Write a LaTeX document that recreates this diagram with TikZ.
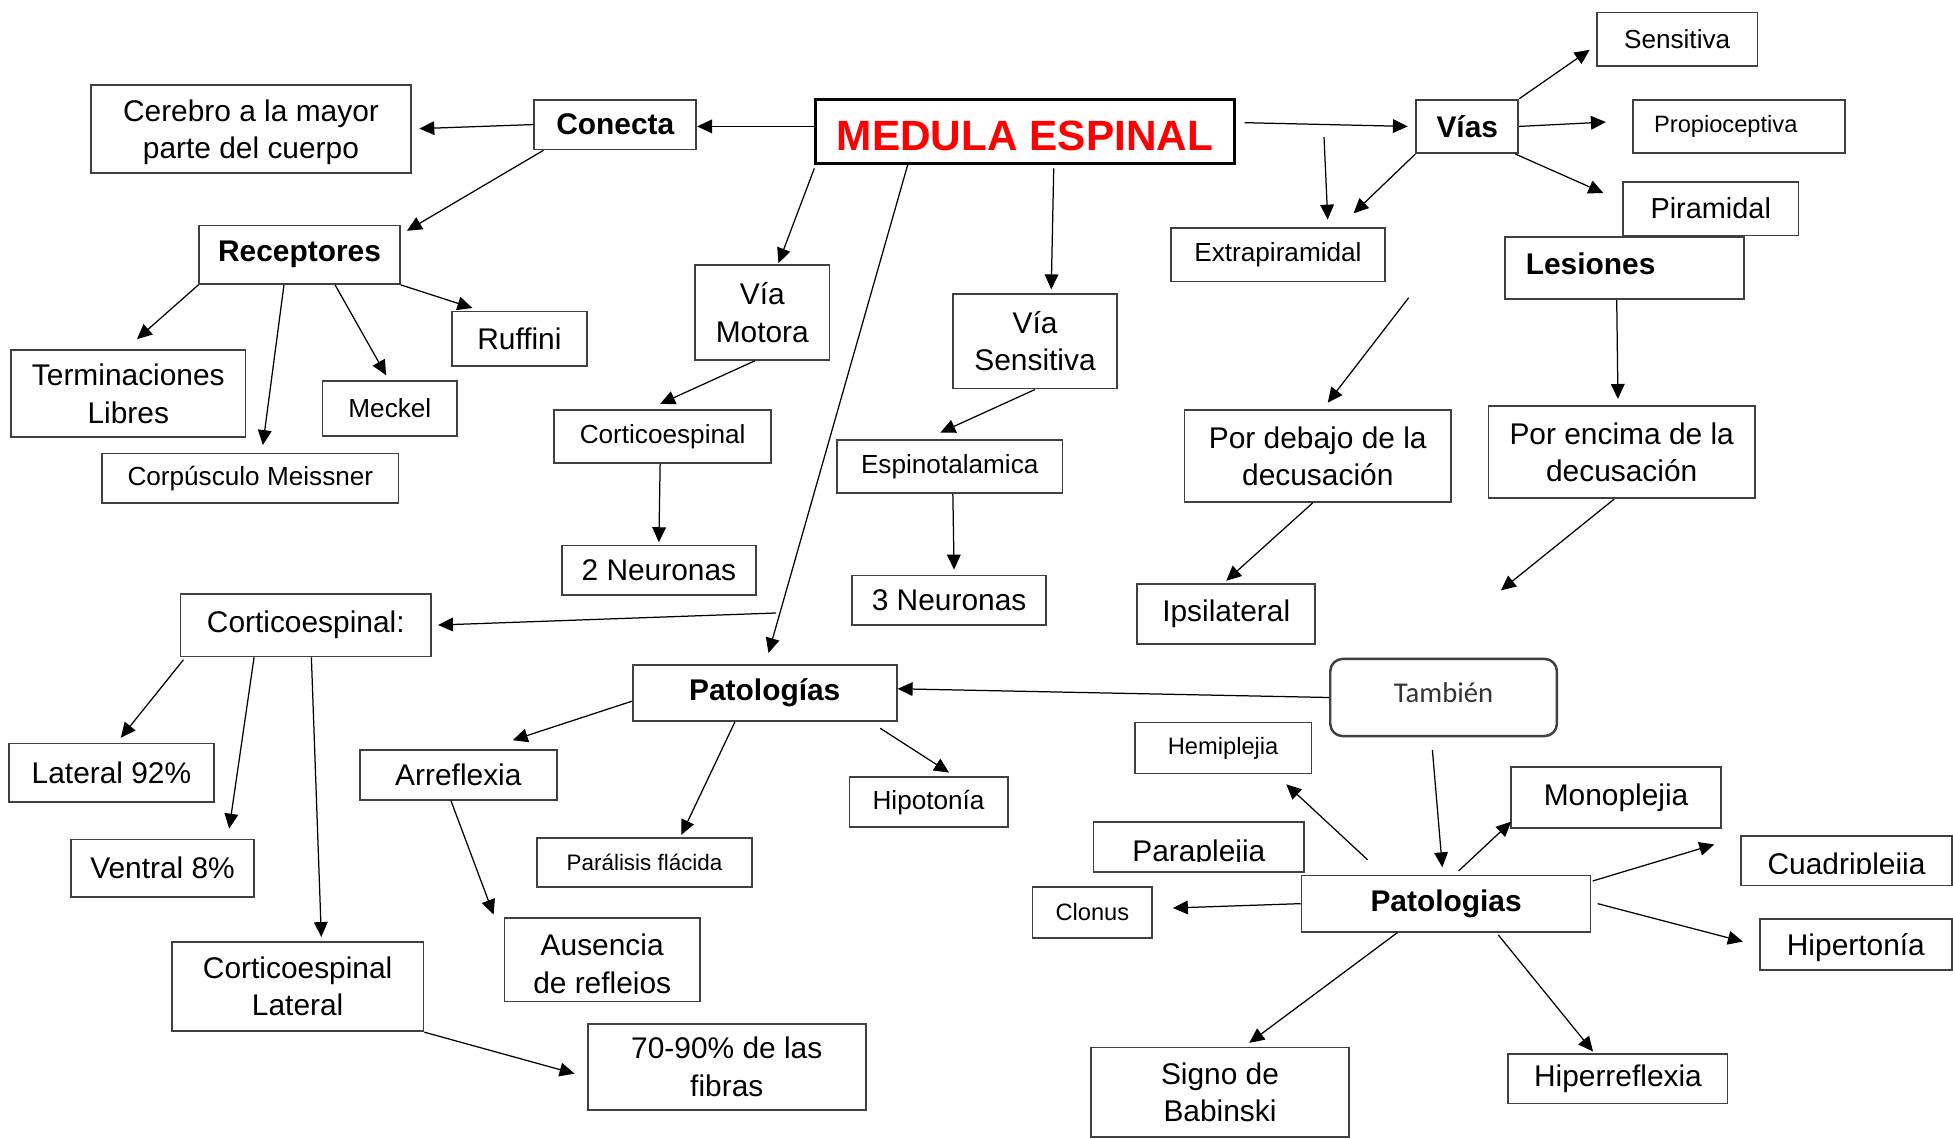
\documentclass[tikz,border=0pt]{standalone}
\usepackage{fontspec}
\setmainfont{Liberation Sans}
\newfontfamily\carlitofont{Carlito}
\usetikzlibrary{arrows.meta,calc}
\definecolor{medred}{HTML}{FF0000}
\definecolor{boxgray}{HTML}{404040}
\definecolor{textgray}{HTML}{333333}

\begin{document}
\begin{tikzpicture}[x=0.5pt, y=-0.5pt,
  caja/.style={draw=boxgray, line width=0.7pt, inner sep=1pt, align=center,
    font=\fontsize{12}{15}\selectfont},
  dosl/.style={caja, text depth=0pt},
  cajachica/.style={caja, font=\fontsize{10.5}{13}\selectfont},
  cajamini/.style={caja, font=\fontsize{9.5}{12}\selectfont},
  cajabold/.style={caja, font=\bfseries\fontsize{12}{15}\selectfont},
  flecha/.style={-{Triangle[length=6pt,width=5.5pt]}, line width=0.5pt}]
  \path[use as bounding box, fill=white] (0,0) rectangle (1568,914);

  % centro y rama izquierda
  \node[draw=black, line width=1.2pt, minimum width=168pt, minimum height=25.5pt, text height=15.5pt, text depth=0pt,
    font=\bfseries\fontsize{17}{19}\selectfont, text=medred] (medula) at (823,105.5) {MEDULA ESPINAL};
  \node[cajabold, minimum width=65pt, minimum height=20pt] (conecta) at (494,100) {Conecta};
  \node[dosl, minimum width=128.5pt, minimum height=35.5pt] (cerebro) at (201.5,103.5) {Cerebro a la mayor\\parte del cuerpo};
  \node[cajabold, minimum width=80.5pt, minimum height=23.5pt] (receptores) at (240.5,204.5) {Receptores};
  \node[dosl, minimum width=94pt, minimum height=35pt] (terminaciones) at (103,316) {Terminaciones\\Libres};
  \node[cajachica, minimum width=54pt, minimum height=22pt] (meckel) at (313,328) {Meckel};
  \node[caja, minimum width=54pt, minimum height=22pt] (ruffini) at (417,272) {Ruffini};
  \node[cajachica, minimum width=119pt, minimum height=20pt] (meissner) at (201,384) {Corpúsculo Meissner};

  % vias motora y sensitiva
  \node[dosl, minimum width=54pt, minimum height=38pt] (viamotora) at (612,251) {Vía\\Motora};
  \node[dosl, minimum width=66pt, minimum height=38pt] (viasensitiva) at (831,274) {Vía\\Sensitiva};
  \node[cajachica, minimum width=87pt, minimum height=21.5pt] (cortmotora) at (532,350.5) {Corticoespinal};
  \node[cajachica, minimum width=90.5pt, minimum height=21.5pt] (espino) at (762.5,374.5) {Espinotalamica};
  \node[caja, minimum width=78pt, minimum height=20pt] (neuronas2) at (529,458) {2 Neuronas};
  \node[caja, minimum width=78pt, minimum height=20pt] (neuronas3) at (762,482) {3 Neuronas};

  % vias y lesiones
  \node[cajabold, minimum width=41pt, minimum height=21.5pt] (vias) at (1178,101.5) {Vías};
  \node[cajachica, minimum width=64.5pt, minimum height=21.5pt] (sensitiva) at (1346.5,31.5) {Sensitiva};
  \node[cajamini, text width=68pt, align=left, inner xsep=8.5pt, minimum height=21.5pt] (propio) at (1396,101.5) {Propioceptiva};
  \node[caja, font=\fontsize{11.6}{14}\selectfont, minimum width=70.5pt, minimum height=21.5pt] (piramidal) at (1373.5,167.5) {Piramidal};
  \node[cajachica, minimum width=86pt, minimum height=21.5pt] (extrapir) at (1026,204.5) {Extrapiramidal};
  \node[cajabold, text width=79pt, align=left, inner xsep=8.5pt, minimum height=25pt, text depth=3pt] (lesiones) at (1304,215) {Lesiones};
  \node[dosl, minimum width=107pt, minimum height=37pt] (debajo) at (1058,366) {Por debajo de la\\decusación};
  \node[dosl, minimum width=107pt, minimum height=37pt] (encima) at (1302,363) {Por encima de la\\decusación};
  \node[caja, minimum width=71.5pt, minimum height=24pt] (ipsilateral) at (984.5,493) {Ipsilateral};
  \coordinate (extrainicio) at (1063,110);
  \coordinate (debajoinicio) at (1131,239);
  \coordinate (encimafin) at (1205,474);

  % corticoespinal
  \node[caja, minimum width=100.5pt, minimum height=25pt] (cortico) at (245.5,502) {Corticoespinal:};
  \node[caja, minimum width=82.5pt, minimum height=23.5pt] (lateral) at (89.5,620.5) {Lateral 92\%};
  \node[caja, minimum width=73.5pt, minimum height=23pt] (ventral) at (130.5,697) {Ventral 8\%};
  \node[dosl, minimum width=101pt, minimum height=36pt] (cortlateral) at (239,792) {Corticoespinal\\Lateral};
  \node[dosl, minimum width=111.5pt, minimum height=34.5pt] (fibras) at (583.5,856.5) {70-90\% de las\\fibras};

  % patologias (motora)
  \node[cajabold, minimum width=106pt, minimum height=22.5pt] (patologia1) at (614,556.5) {Patologías};
  \node[caja, minimum width=79pt, minimum height=20pt] (arreflexia) at (368,622) {Arreflexia};
  \node[caja, font=\fontsize{9}{11}\selectfont, minimum width=86.5pt, minimum height=19.5pt] (paralisis) at (517.5,692.5) {Parálisis flácida};
  \node[caja, minimum width=78.5pt, minimum height=33.5pt, text height=27pt, text depth=0pt] (ausencia) at (483.5,770.5) {Ausencia\\de reflejos};
  \node[cajachica, minimum width=63.5pt, minimum height=20pt] (hipotonia) at (745.5,644) {Hipotonía};

  % tambien y patologias
  \node[draw=boxgray, line width=1pt, rounded corners=5pt, minimum width=91pt, minimum height=31pt, text depth=4pt,
    font=\carlitofont\fontsize{11.5}{13}\selectfont, text=textgray] (tambien) at (1159,560) {También};
  \node[cajabold, minimum width=116pt, minimum height=22.5pt] (patologia2) at (1161,725.5) {Patologias};
  \node[cajamini, minimum width=71pt, minimum height=20.5pt] (hemiplejia) at (982,600.5) {Hemiplejia};
  \node[caja, minimum width=84.5pt, minimum height=24.5pt] (monoplejia) at (1297.5,640.5) {Monoplejia};
  \node[caja, minimum width=84.5pt, minimum height=20pt, text height=11.8pt, text depth=0pt] (paraplejia) at (962.5,680) {Paraplejia};
  \node[cajamini, minimum width=48pt, minimum height=20.5pt] (clonus) at (877,732.5) {Clonus};
  \node[caja, minimum width=84.5pt, minimum height=20pt, text height=11pt, text depth=0pt] (cuadriplejia) at (1482.5,691) {Cuadriplejia};
  \node[caja, minimum width=77pt, minimum height=20.5pt, text height=11pt] (hipertonia) at (1490,758.5) {Hipertonía};
  \node[dosl, minimum width=103.5pt, minimum height=36pt] (babinski) at (979.5,877) {Signo de\\Babinski};
  \node[caja, minimum width=88pt, minimum height=20pt] (hiperreflexia) at (1299,866) {Hiperreflexia};

  % descendentes cortados
  \fill[white] ($(paraplejia.south west)+(0.6pt,0.6pt)$) rectangle ($(paraplejia.base -| paraplejia.east)+(-0.6pt,0)$);
  \fill[white] ($(cuadriplejia.south west)+(0.6pt,0.6pt)$) rectangle ($(cuadriplejia.base -| cuadriplejia.east)+(-0.6pt,0)$);
  \fill[white] ($(ausencia.south west)+(0.6pt,0.6pt)$) rectangle ($(ausencia.south east)+(-0.6pt,3.4pt)$);

  % flechas
  \draw[flecha] ([yshift=2pt]medula.west) -- ([yshift=-0.75pt]conecta.east);
  \draw[flecha, shorten >=3pt] (conecta.west) -- (cerebro.east);
  \draw[flecha] ([xshift=4pt]conecta.south west) -- ([xshift=2.5pt,yshift=-2.5pt]receptores.north east);
  \draw[flecha] (receptores.south west) -- ([xshift=3.5pt,yshift=4pt]terminaciones.north);
  \draw[flecha] ([xshift=-6.25pt]receptores.south) -- ([xshift=5pt,yshift=3pt]meissner.north);
  \draw[flecha] ([xshift=14.25pt]receptores.south) -- ([xshift=-1.5pt,yshift=2pt]meckel.north);
  \draw[flecha] (receptores.south east) -- ([xshift=8.5pt,yshift=1pt]ruffini.north west);

  \draw[flecha] ([yshift=-1.5pt]medula.south west) -- ([xshift=6.5pt,yshift=0.5pt]viamotora.north);
  \draw[flecha] ([xshift=37.5pt]medula.south west) -- coordinate[pos=0.918] (corticocorte)
    ([xshift=1.5pt,yshift=4.5pt]patologia1.north);
  \draw[flecha] ([xshift=11.5pt,yshift=-1.5pt]medula.south) -- ([xshift=6.5pt,yshift=1.5pt]viasensitiva.north);
  \draw[flecha] ([xshift=3.5pt,yshift=3.5pt]medula.east) -- ([xshift=-3pt]vias.west);
  \draw[flecha] ([xshift=-3pt]viamotora.south) -- ([xshift=-1pt,yshift=2pt]cortmotora.north);
  \draw[flecha] ([xshift=-1pt]cortmotora.south) -- ([yshift=1pt]neuronas2.north);
  \draw[flecha] (viasensitiva.south) -- ([xshift=-3.75pt,yshift=2.5pt]espino.north);
  \draw[flecha] ([xshift=1.25pt]espino.south) -- ([xshift=2pt,yshift=2pt]neuronas3.north);

  \draw[flecha] (extrainicio) -- ([xshift=20pt,yshift=3pt]extrapir.north);
  \draw[flecha] (vias.south west) -- ([xshift=-13pt,yshift=5.5pt]extrapir.north east);
  \draw[flecha] (vias.north east) -- ([xshift=-2.5pt,yshift=-4.25pt]sensitiva.west);
  \draw[flecha] (vias.east) -- ([xshift=-10.5pt,yshift=1.75pt]propio.west);
  \draw[flecha] ([xshift=-1.5pt]vias.south east) -- ([xshift=-7.5pt,yshift=6.25pt]piramidal.west);
  \draw[flecha] (debajoinicio) -- ([xshift=4pt,yshift=2.5pt]debajo.north);
  \draw[flecha] ([xshift=-3pt]lesiones.south) -- ([xshift=-1.5pt,yshift=2.5pt]encima.north);
  \draw[flecha] ([xshift=-2pt]debajo.south) -- ([yshift=1pt]ipsilateral.north);
  \draw[flecha] ([xshift=-3pt]encima.south) -- (encimafin);

  \draw[flecha, shorten >=2.5pt] ([xshift=-1.5pt]corticocorte) -- (cortico.east);
  \draw[flecha] ([xshift=1.5pt,yshift=-1pt]cortico.south west) -- ([xshift=3.75pt,yshift=2pt]lateral.north);
  \draw[flecha] ([xshift=-20.75pt]cortico.south) -- ([xshift=26.75pt,yshift=4pt]ventral.north);
  \draw[flecha] ([xshift=2.25pt]cortico.south) -- ([xshift=9.5pt,yshift=1.5pt]cortlateral.north);
  \draw[flecha] (cortlateral.south east) -- ([xshift=-5pt,yshift=-2.75pt]fibras.west);

  \draw[flecha] ([yshift=-3.25pt]patologia1.west) -- ([xshift=-18pt,yshift=3.5pt]arreflexia.north east);
  \draw[flecha] ([xshift=-12pt]patologia1.south) -- ([xshift=14.75pt,yshift=1pt]paralisis.north);
  \draw[flecha] ([xshift=-7pt,yshift=-2.5pt]patologia1.south east) -- ([xshift=8.25pt,yshift=1.5pt]hipotonia.north);
  \draw[flecha] ([xshift=-3pt]arreflexia.south) -- ([xshift=-4pt,yshift=1pt]ausencia.north west);

  \draw[flecha] (tambien.west) -- ([yshift=1.75pt]patologia1.east);
  \draw[flecha] ([xshift=-4.5pt,yshift=-5pt]tambien.south) -- ([xshift=-1.5pt,yshift=3pt]patologia2.north);
  \draw[flecha] ([xshift=-31.5pt,yshift=6pt]patologia2.north) -- ([xshift=-10.5pt,yshift=-4pt]hemiplejia.south east);
  \draw[flecha] ([xshift=5pt,yshift=1.5pt]patologia2.north) -- ([xshift=0.5pt,yshift=3pt]monoplejia.south west);
  \draw[flecha] ([xshift=0.5pt,yshift=-2.5pt]patologia2.north east) -- ([xshift=-10.5pt,yshift=6.5pt]cuadriplejia.west);
  \draw[flecha] ([xshift=2.5pt]patologia2.east) -- ([xshift=-6.5pt,yshift=1.25pt]hipertonia.west);
  \draw[flecha] (patologia2.west) -- ([xshift=8pt,yshift=1.75pt]clonus.east);
  \draw[flecha] ([xshift=-19.5pt]patologia2.south) -- ([xshift=11.75pt,yshift=1.5pt]babinski.north);
  \draw[flecha] ([xshift=21pt,yshift=-1pt]patologia2.south) -- ([xshift=-10pt,yshift=0.5pt]hiperreflexia.north);
\end{tikzpicture}
\end{document}
